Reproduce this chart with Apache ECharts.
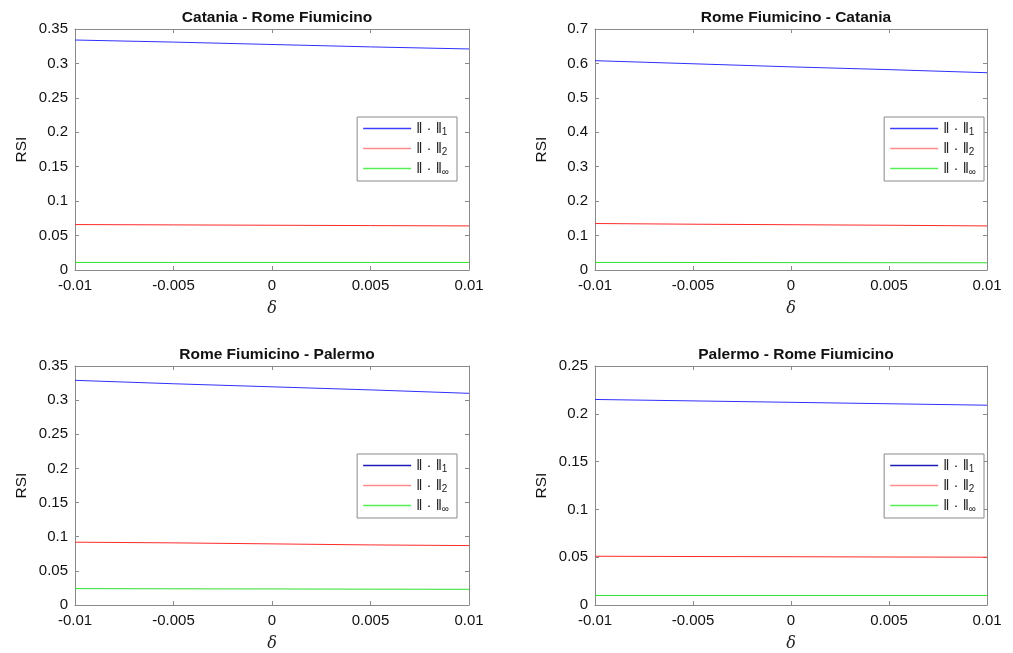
<!DOCTYPE html>
<html style="height: 100%">
<head>
    <meta charset="utf-8">
    <script src="https://cdn.jsdelivr.net/npm/echarts@6/dist/echarts.min.js"></script>
</head>
<body style="height: 100%; margin: 0; background: #fff">
    <div id="main" style="width: 1013px; height: 653px"></div>
    <script type="text/javascript">
        var deltas = [-0.01, -0.005, 0, 0.005, 0.01];
        var xTicks = [-0.01, -0.005, 0, 0.005, 0.01];

        var titles = ['Catania - Rome Fiumicino', 'Rome Fiumicino - Catania',
                      'Rome Fiumicino - Palermo', 'Palermo - Rome Fiumicino'];
        var yMax = [0.35, 0.7, 0.35, 0.25];
        var yStep = [0.05, 0.1, 0.05, 0.05];

        // RSI for each norm, one array per panel
        var norm1 = [
            [0.334, 0.331, 0.3275, 0.324, 0.321],
            [0.608, 0.599, 0.590, 0.582, 0.573],
            [0.329, 0.324, 0.3195, 0.315, 0.310],
            [0.215, 0.2135, 0.212, 0.2105, 0.209]
        ];
        var norm2 = [
            [0.066, 0.0655, 0.065, 0.0645, 0.064],
            [0.135, 0.133, 0.1315, 0.130, 0.128],
            [0.092, 0.091, 0.0895, 0.088, 0.087],
            [0.051, 0.0507, 0.0505, 0.0502, 0.050]
        ];
        var normInf = [
            [0.011, 0.011, 0.011, 0.011, 0.011],
            [0.022, 0.0218, 0.0215, 0.0212, 0.021],
            [0.024, 0.0237, 0.0235, 0.0232, 0.023],
            [0.010, 0.010, 0.010, 0.010, 0.010]
        ];

        var myChart = echarts.init(document.getElementById('main'));

        var grids = [
            { left: 75, top: 29, width: 394, height: 241 },
            { left: 595, top: 29, width: 392, height: 241 },
            { left: 75, top: 366, width: 394, height: 239 },
            { left: 595, top: 366, width: 392, height: 239 }
        ];
        // legend box positions (right edge, top)
        var legendPos = [
            { right: 556, top: 117 },
            { right: 29, top: 117 },
            { right: 556, top: 454 },
            { right: 29, top: 454 }
        ];
        var firstColour = ['#3d3dff', '#3d3dff', '#1c1cb4', '#1c1cb4'];

        var font = 'Helvetica, "Liberation Sans", Arial, sans-serif';
        var axisGray = '#8a8a8a';
        var names = ['L1', 'L2', 'Linf'];
        var subs = { L1: '1', L2: '2', Linf: '∞' };

        var option = {
            animation: false,
            backgroundColor: '#fff',
            title: [], grid: [], xAxis: [], yAxis: [], legend: [], series: []
        };

        function dataOf(arr) {
            var out = [];
            for (var i = 0; i < deltas.length; i++) out.push([deltas[i], arr[i]]);
            return out;
        }

        for (var k = 0; k < 4; k++) {
            var g = grids[k];
            option.grid.push(g);
            option.title.push({
                text: titles[k],
                left: g.left + g.width / 2,
                top: k < 2 ? 5 : 342,
                textAlign: 'center',
                textStyle: { fontFamily: font, fontSize: 15.5, fontWeight: 'bold', color: '#111' }
            });

            var xBase = {
                type: 'value', gridIndex: k, min: -0.01, max: 0.01, interval: 0.005,
                axisLine: { onZero: false, lineStyle: { color: axisGray } },
                axisTick: { inside: true, length: 4, lineStyle: { color: axisGray } },
                splitLine: { show: false }
            };
            option.xAxis.push(Object.assign({}, xBase, {
                position: 'bottom',
                name: 'δ', nameLocation: 'middle', nameGap: 31,
                nameTextStyle: { fontFamily: '"DejaVu Serif", "Liberation Serif", serif', fontStyle: 'italic', fontSize: 16, color: '#222' },
                axisLabel: {
                    fontFamily: font, fontSize: 15, color: '#111', margin: 8,
                    formatter: function (v) { return xTicks.indexOf(+v.toFixed(3)) >= 0 ? String(+v.toFixed(3)) : ''; }
                }
            }));
            option.xAxis.push(Object.assign({}, xBase, { position: 'top', axisLabel: { show: false } }));

            var yBase = {
                type: 'value', gridIndex: k, min: 0, max: yMax[k], interval: yStep[k],
                axisLine: { show: true, onZero: false, lineStyle: { color: axisGray } },
                axisTick: { show: true, inside: true, length: 4, lineStyle: { color: axisGray } },
                splitLine: { show: false }
            };
            option.yAxis.push(Object.assign({}, yBase, {
                position: 'left',
                name: 'RSI', nameLocation: 'middle', nameGap: 45,
                nameTextStyle: { fontFamily: font, fontSize: 15.5, color: '#111' },
                axisLabel: {
                    fontFamily: font, fontSize: 15, color: '#111', margin: 7,
                    formatter: function (v) { return String(+v.toFixed(2)); }
                }
            }));
            option.yAxis.push(Object.assign({}, yBase, { position: 'right', axisLabel: { show: false } }));

            var sets = [norm1[k], norm2[k], normInf[k]];
            var cols = ['#3030ff', '#ff2a2a', '#2ee02e'];
            for (var s = 0; s < 3; s++) {
                option.series.push({
                    type: 'line', name: names[s],
                    xAxisIndex: k * 2, yAxisIndex: k * 2,
                    data: dataOf(sets[s]),
                    symbol: 'none', showSymbol: false,
                    lineStyle: { width: 1, color: cols[s] },
                    itemStyle: { color: cols[s] }
                });
            }

            option.legend.push({
                orient: 'vertical',
                right: legendPos[k].right, top: legendPos[k].top,
                backgroundColor: '#fff',
                borderColor: '#8a8a8a', borderWidth: 1,
                padding: [4, 8, 4, 6],
                itemGap: 4,
                itemWidth: 48, itemHeight: 1.5,
                icon: 'rect',
                selectedMode: false,
                data: [
                    { name: 'L1', itemStyle: { color: firstColour[k] } },
                    { name: 'L2', itemStyle: { color: '#ff8a8a' } },
                    { name: 'Linf', itemStyle: { color: '#55ee55' } }
                ],
                formatter: function (n) { return '{b|‖ · ‖}{s|' + subs[n] + '}'; },
                textStyle: {
                    fontFamily: font, fontSize: 13, color: '#222',
                    rich: {
                        b: { fontFamily: font, fontSize: 15, color: '#222' },
                        s: { fontFamily: font, fontSize: 10, color: '#222', padding: [7, 0, 0, 0] }
                    }
                }
            });
        }

        myChart.setOption(option);
    </script>
</body>
</html>
